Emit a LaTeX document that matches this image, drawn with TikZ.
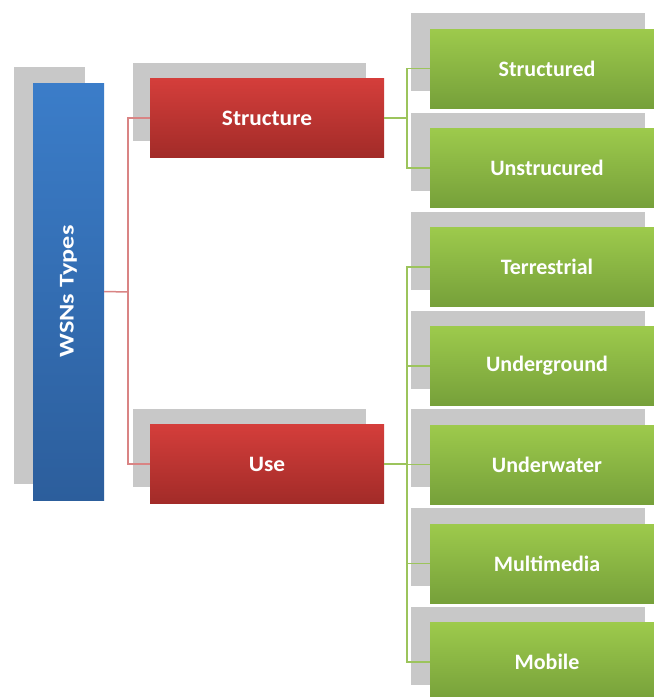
\documentclass[tikz,border=0pt]{standalone}
\usepackage{fontspec}
\setmainfont{Carlito}
\definecolor{shadowgray}{HTML}{C8C8C8}
\definecolor{bluetop}{HTML}{3B7DC9}
\definecolor{bluebot}{HTML}{2C5E9C}
\definecolor{redtop}{HTML}{D43E3B}
\definecolor{redbot}{HTML}{A22B28}
\definecolor{greentop}{HTML}{9DCA4C}
\definecolor{greenbot}{HTML}{76A03A}
\definecolor{redline}{HTML}{D98484}
\definecolor{greenline}{HTML}{9CC45C}
\tikzset{
  shadowbox/.style={fill=shadowgray, draw=none, inner sep=0pt},
  labelfont/.style={text=white, font=\bfseries\fontsize{22}{26}\selectfont},
  bluebox/.style={top color=bluetop, bottom color=bluebot, draw=none, inner sep=0pt,
    minimum width=71pt, minimum height=417pt, text=white, font=\bfseries\fontsize{21}{24}\selectfont},
  redbox/.style={top color=redtop, bottom color=redbot, draw=none, inner sep=0pt,
    minimum width=234pt, minimum height=79pt, labelfont},
  greenbox/.style={top color=greentop, bottom color=greenbot, draw=none, inner sep=0pt,
    minimum width=234pt, minimum height=79pt, labelfont},
  redconn/.style={draw=redline, line width=1.5pt},
  greenconn/.style={draw=greenline, line width=1.5pt}
}
\begin{document}
\begin{tikzpicture}[x=1pt,y=-1pt]
\useasboundingbox (0,0) rectangle (654,697);
\clip (0,0) rectangle (654,697);
\fill[white] (0,0) rectangle (654,697);
% shadows
\node[shadowbox, minimum width=71pt, minimum height=417pt] (bsh) at (49.5,275) {};
\node[shadowbox, minimum width=233pt, minimum height=78pt] (ssh) at (249,101.5) {};
\node[shadowbox, minimum width=233pt, minimum height=78pt] (ush) at (249,447.5) {};
\foreach \y [count=\i] in {68.5,168,267,366,464.5,563.5,662} {
  \node[shadowbox, minimum width=234pt, minimum height=78pt] (gsh\i) at (528,\y-16.5) {};
}
% connector junctions
\coordinate (rj) at (128,292);
\coordinate (gj1) at (407,118);
\coordinate (gj2) at (407,464);
% main boxes
\node[bluebox] (blue) at (68.5,291.5) {\rotatebox{90}{\scalebox{1.25}[1]{WSNs Types}}};
\node[redbox] (struct) at (267,118) {\scalebox{1.06}[1]{Structure}};
\node[redbox] (use) at (267,464) {\scalebox{1.06}[1]{Use}};
\node[greenbox] (g1) at (547,68.5) {Structured};
\node[greenbox] (g2) at (547,168) {Unstrucured};
\node[greenbox] (g3) at (547,267) {Terrestrial};
\node[greenbox] (g4) at (547,366) {Underground};
\node[greenbox] (g5) at (547,464.5) {Underwater};
\node[greenbox] (g6) at (547,563.5) {Multimedia};
\node[greenbox] (g7) at (547,662) {Mobile};
% red connectors
\draw[redconn] (blue.east) -- (rj);
\draw[redconn] (struct.west) -- (rj|-struct.west) -- (rj|-use.west) -- (use.west);
% green connectors
\draw[greenconn] (struct.east) -- (gj1);
\draw[greenconn] (g1.west) -- (gj1|-g1.west) -- (gj1|-g2.west) -- (g2.west);
\draw[greenconn] (use.east) -- (gj2);
\draw[greenconn] (g3.west) -- (gj2|-g3.west) -- (gj2|-g7.west) -- (g7.west);
\foreach \n in {g4,g5,g6} {
  \draw[greenconn] (gj2|-\n.west) -- (\n.west);
}
\end{tikzpicture}
\end{document}
